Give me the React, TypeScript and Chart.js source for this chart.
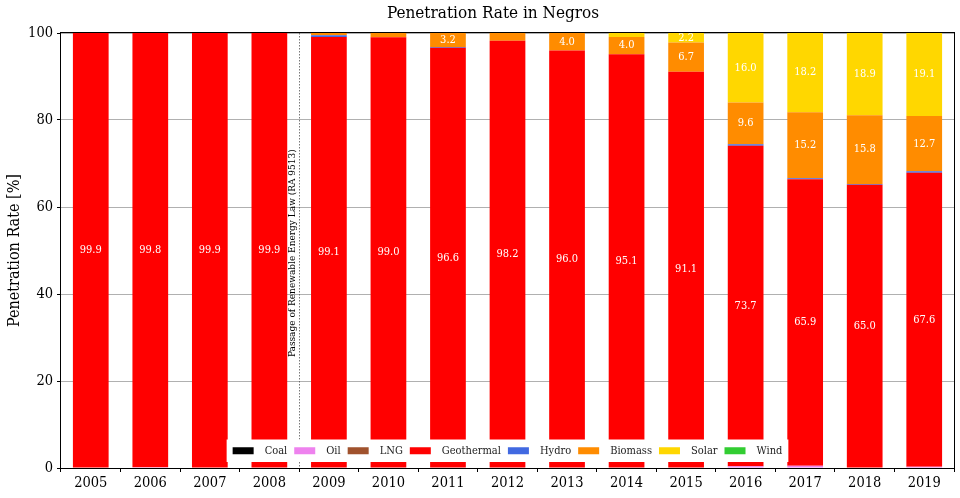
import React, { useEffect, useRef } from "react";
import { Chart, registerables } from "chart.js";

Chart.register(...registerables);

const years = ["2005", "2006", "2007", "2008", "2009", "2010", "2011", "2012", "2013", "2014", "2015", "2016", "2017", "2018", "2019"];
const coal = [0, 0, 0, 0, 0, 0, 0, 0, 0, 0, 0, 0, 0, 0, 0];
const oil = [0.1, 0.2, 0.1, 0.1, 0, 0, 0, 0, 0, 0, 0, 0.4, 0.5, 0.1, 0.3];
const lng = [0, 0, 0, 0, 0, 0, 0, 0, 0, 0, 0, 0, 0, 0, 0];
const geothermal = [99.9, 99.8, 99.9, 99.9, 99.1, 99.0, 96.6, 98.2, 96.0, 95.1, 91.1, 73.7, 65.9, 65.0, 67.6];
const hydro = [0, 0, 0, 0, 0.4, 0, 0.2, 0, 0, 0, 0, 0.3, 0.2, 0.2, 0.3];
const biomass = [0, 0, 0, 0, 0.5, 1.0, 3.2, 1.8, 4.0, 4.0, 6.7, 9.6, 15.2, 15.8, 12.7];
const solar = [0, 0, 0, 0, 0, 0, 0, 0, 0, 0.9, 2.2, 16.0, 18.2, 18.9, 19.1];
const wind = [0, 0, 0, 0, 0, 0, 0, 0, 0, 0, 0, 0, 0, 0, 0];

const seriesNames = ["Coal", "Oil", "LNG", "Geothermal", "Hydro", "Biomass", "Solar", "Wind"];
const seriesValues = [coal, oil, lng, geothermal, hydro, biomass, solar, wind];
const seriesColors = ["#000000", "#EE82EE", "#A0522D", "#FF0000", "#4169E1", "#FF8C00", "#FFD700", "#32CD32"];

const titleText = "Penetration Rate in Negros";
const yLabelText = "Penetration Rate [%]";
const lawText = "Passage of Renewable Energy Law (RA 9513)";
const lawIndex = 3.5;
const lawTextAt = 25.5;
const labelThreshold = 2;

const FONT = "'DejaVu Serif Condensed', 'DejaVu Serif', serif";

const overlayPlugin = {
  id: "overlay",
  afterDatasetsDraw(chart: any) {
    const { ctx, chartArea } = chart;
    const { left, right, top, bottom } = chartArea;
    const xs = chart.scales.x;
    const ys = chart.scales.y;
    ctx.save();

    // value labels
    ctx.fillStyle = "#ffffff";
    ctx.font = `11px ${FONT}`;
    ctx.textAlign = "center";
    ctx.textBaseline = "middle";
    chart.data.datasets.forEach((ds: any, di: number) => {
      const meta = chart.getDatasetMeta(di);
      meta.data.forEach((el: any, i: number) => {
        const v = ds.data[i].y;
        if (v > labelThreshold) {
          const cy = (el.y + el.base) / 2;
          ctx.fillText(v.toFixed(1), el.x, cy);
        }
      });
    });

    // vertical law line
    const lx = Math.round(xs.getPixelForValue(lawIndex)) + 0.5;
    ctx.strokeStyle = "#555555";
    ctx.lineWidth = 0.8;
    ctx.setLineDash([1.5, 1.5]);
    ctx.beginPath();
    ctx.moveTo(lx, top);
    ctx.lineTo(lx, bottom);
    ctx.stroke();
    ctx.setLineDash([]);

    ctx.save();
    ctx.translate(lx - 2, ys.getPixelForValue(lawTextAt));
    ctx.rotate(-Math.PI / 2);
    ctx.fillStyle = "#000000";
    ctx.font = `10px ${FONT}`;
    ctx.textAlign = "left";
    ctx.textBaseline = "bottom";
    ctx.fillText(lawText, 0, 0);
    ctx.restore();

    // frame
    ctx.strokeStyle = "#000000";
    ctx.lineWidth = 1;
    ctx.strokeRect(left - 0.5, top - 0.5, right - left + 1, bottom - top + 1);

    // legend
    ctx.font = `11px ${FONT}`;
    const sw = 21, sh = 7, gapText = 11, gapItem = 7, padX = 6;
    let total = 0;
    const widths = seriesNames.map((n) => ctx.measureText(n).width);
    widths.forEach((w, i) => {
      total += sw + gapText + w + (i < widths.length - 1 ? gapItem : 0);
    });
    const boxW = total + padX * 2;
    const boxH = 22.5;
    const bx = (left + right) / 2 - boxW / 2;
    const by = bottom - 6 - boxH;
    ctx.fillStyle = "#ffffff";
    ctx.fillRect(bx, by, boxW, boxH);
    let x = bx + padX;
    const cy = by + boxH / 2;
    seriesNames.forEach((n, i) => {
      ctx.fillStyle = seriesColors[i];
      ctx.fillRect(x, cy - sh / 2, sw, sh);
      ctx.fillStyle = "#222222";
      ctx.textAlign = "left";
      ctx.textBaseline = "middle";
      ctx.fillText(n, x + sw + gapText, cy);
      x += sw + gapText + widths[i] + gapItem;
    });

    ctx.restore();
  },
  afterDraw(chart: any) {
    const { ctx, chartArea } = chart;
    const { top, bottom } = chartArea;
    ctx.save();
    ctx.fillStyle = "#000000";
    ctx.font = `17px ${FONT}`;
    ctx.textAlign = "center";
    ctx.textBaseline = "middle";
    ctx.fillText(titleText, 493, 14);

    ctx.translate(15, (top + bottom) / 2);
    ctx.rotate(-Math.PI / 2);
    ctx.font = `16px ${FONT}`;
    ctx.fillText(yLabelText, 0, 0);
    ctx.restore();
  },
};

export default function App() {
  const ref = useRef<HTMLCanvasElement | null>(null);
  useEffect(() => {
    document.body.style.margin = "0";
    const canvas = ref.current;
    if (!canvas) return;
    const chart = new Chart(canvas, {
      type: "bar",
      data: {
        datasets: seriesNames.map((name, si) => ({
          label: name,
          data: seriesValues[si].map((v, i) => ({ x: i, y: v })),
          backgroundColor: seriesColors[si],
          borderWidth: 0,
          barPercentage: 0.6,
          categoryPercentage: 1,
        })),
      } as any,
      options: {
        animation: false,
        responsive: false,
        devicePixelRatio: 1,
        layout: { padding: { left: 0, right: 6, top: 33, bottom: 0 } },
        scales: {
          x: {
            type: "linear",
            stacked: true,
            min: -0.5,
            max: 14.5,
            offset: false,
            afterBuildTicks: (s: any) => {
              s.ticks = years.map((_, i) => ({ value: i }));
            },
            afterFit: (s: any) => {
              s.height = 30;
            },
            ticks: {
              autoSkip: false,
              maxRotation: 0,
              color: "#000000",
              font: { family: FONT, size: 14.5 },
              padding: 3,
              callback: (v: any) => years[v as number],
            },
            grid: { drawOnChartArea: false, drawTicks: true, tickLength: 4, tickColor: "#000000" },
            border: { display: false },
          },
          y: {
            stacked: true,
            min: 0,
            max: 100,
            afterFit: (s: any) => {
              s.width = 61;
            },
            ticks: {
              stepSize: 20,
              color: "#000000",
              font: { family: FONT, size: 14.5 },
              padding: 4,
            },
            grid: { color: "#b0b0b0", tickColor: "#000000", tickLength: 4, lineWidth: 1 },
            border: { display: false },
          },
        },
        plugins: {
          legend: { display: false },
          title: { display: false },
          tooltip: { enabled: false },
        },
      } as any,
      plugins: [overlayPlugin],
    });
    return () => chart.destroy();
  }, []);
  return (
    <div style={{ width: 960, height: 498, position: "relative" }}>
      <canvas ref={ref} width={960} height={498} style={{ display: "block", width: 960, height: 498 }} />
    </div>
  );
}
